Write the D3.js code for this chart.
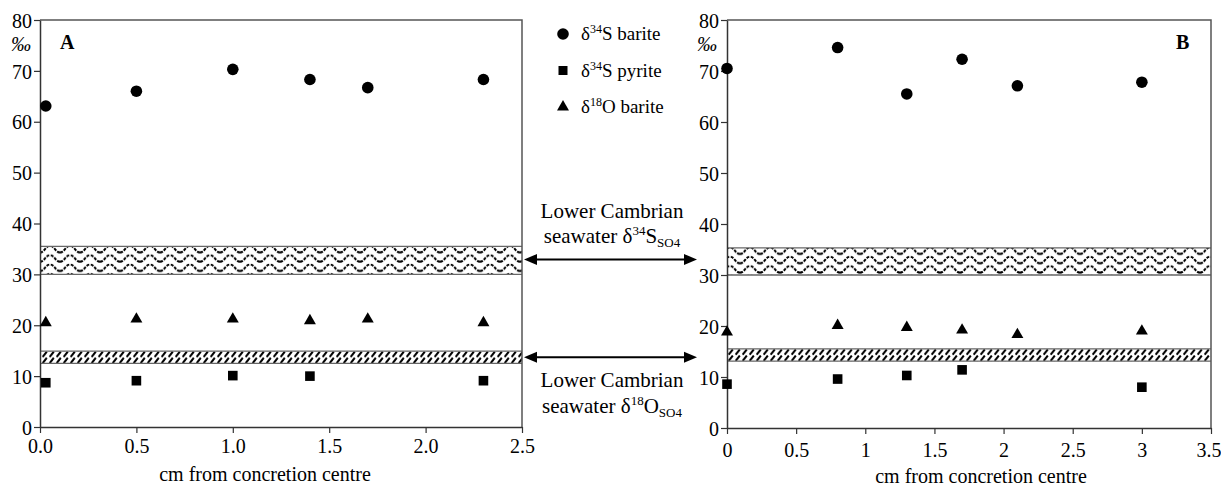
<!DOCTYPE html>
<html>
<head>
<meta charset="utf-8">
<script src="https://cdn.jsdelivr.net/npm/d3@7"></script>
<style>
  body { margin: 0; background: #fff; }
  svg text { font-family: "Liberation Serif", "Times New Roman", Times, "DejaVu Serif", serif !important; fill: #000; }
</style>
</head>
<body>
<div id="viz-container" style="width:1221px;height:487px"></div>
<script>
const serif = '"Liberation Serif", "Times New Roman", Times, "DejaVu Serif", serif';

// panel A
const barXA = [0.03, 0.5, 1.0, 1.4, 1.7, 2.3];
const barSA = [63.1, 66.0, 70.3, 68.3, 66.7, 68.3];
const pyrXA = [0.03, 0.5, 1.0, 1.4, 2.3];
const pyrSA = [8.7, 9.1, 10.1, 10.0, 9.1];
const barOA = [20.5, 21.2, 21.2, 20.9, 21.2, 20.5];
const ticksXA = [0, 0.5, 1, 1.5, 2, 2.5];

// panel B
const barXB = [0, 0.8, 1.3, 1.7, 2.1, 3.0];
const barSB = [70.5, 74.6, 65.5, 72.3, 67.1, 67.8];
const pyrXB = [0, 0.8, 1.3, 1.7, 3.0];
const pyrSB = [8.6, 9.6, 10.3, 11.4, 8.0];
const barOB = [18.8, 20.1, 19.7, 19.2, 18.3, 19.0];
const ticksXB = [0, 0.5, 1, 1.5, 2, 2.5, 3, 3.5];

const ticksY = [0, 10, 20, 30, 40, 50, 60, 70, 80];

// seawater bands [low, high]
const bandSA = [30, 35.5];
const bandOA = [12.5, 14.9];
const bandSB = [30, 35.3];
const bandOB = [13.1, 15.5];
const arrowLevels = [32.9, 13.7];

const svg = d3.select("#viz-container").append("svg")
  .attr("width", 1221).attr("height", 487)
  .attr("font-family", serif);
const defs = svg.append("defs");

const axisColor = "#333";
const frameColor = "#555";

function wavePattern(id, y0) {
  const p = defs.append("pattern").attr("id", id)
    .attr("patternUnits", "userSpaceOnUse")
    .attr("x", 0).attr("y", y0)
    .attr("width", 20).attr("height", 9.3);
  p.append("rect").attr("width", 20).attr("height", 9.3).attr("fill", "#fff");
  p.append("path")
    .attr("d", "M0,8 C5,8 5,1.6 10,1.6 C15,1.6 15,8 20,8")
    .attr("fill", "none").attr("stroke", "#000")
    .attr("stroke-width", 2).attr("stroke-dasharray", "3,1.3");
}
function hatchPattern(id, y0) {
  const p = defs.append("pattern").attr("id", id)
    .attr("patternUnits", "userSpaceOnUse")
    .attr("x", 0).attr("y", y0)
    .attr("width", 7).attr("height", 6.2);
  p.append("rect").attr("width", 7).attr("height", 6.2).attr("fill", "#fff");
  p.append("path").attr("d", "M0.6,5.8 L4.8,0.4")
    .attr("stroke", "#000").attr("stroke-width", 2);
}

function panel(opts) {
  const x = d3.scaleLinear().domain(opts.xDomain).range(opts.xRange);
  const y = d3.scaleLinear().domain([0, 80]).range(opts.yRange);
  const g = svg.append("g");

  // bands
  wavePattern(opts.id + "-wave", y(opts.bandS[1]) - 2);
  hatchPattern(opts.id + "-hatch", y(opts.bandO[1]));
  [[opts.bandS, "-wave"], [opts.bandO, "-hatch"]].forEach(([b, suf]) => {
    g.append("rect")
      .attr("x", x.range()[0]).attr("width", x.range()[1] - x.range()[0])
      .attr("y", y(b[1])).attr("height", y(b[0]) - y(b[1]))
      .attr("fill", "url(#" + opts.id + suf + ")");
    b.forEach(v => g.append("line")
      .attr("x1", x.range()[0]).attr("x2", x.range()[1])
      .attr("y1", y(v)).attr("y2", y(v))
      .attr("stroke", "#666").attr("stroke-width", 1.3));
  });

  // frame top and right
  g.append("path")
    .attr("d", `M${x.range()[0]},${y(80)}H${x.range()[1]}V${y(0)}`)
    .attr("fill", "none").attr("stroke", frameColor).attr("stroke-width", 1.5);

  // axes
  const ax = g.append("g").attr("transform", `translate(0,${y(0)})`)
    .call(d3.axisBottom(x).tickValues(opts.ticksX).tickFormat(opts.fmt)
      .tickSize(6).tickSizeOuter(0).tickPadding(opts.xPad));
  const ay = g.append("g").attr("transform", `translate(${x.range()[0]},0)`)
    .call(d3.axisLeft(y).tickValues(ticksY).tickSize(6).tickSizeOuter(0).tickPadding(2));
  [ax, ay].forEach(a => {
    a.attr("font-family", serif);
    a.select(".domain").attr("stroke", axisColor).attr("stroke-width", 1.5);
    a.selectAll(".tick line").attr("stroke", axisColor).attr("stroke-width", 1.2);
    a.selectAll(".tick text").attr("font-size", 20).attr("fill", "#000");
  });
  ay.selectAll(".tick text").attr("dy", "0.36em");
  // keep the last x label inside the window
  if (opts.clampLast) {
    ax.selectAll(".tick text").filter(d => d === opts.ticksX[opts.ticksX.length - 1])
      .attr("text-anchor", "end").attr("x", 10);
  }

  g.append("text").attr("x", opts.permilX).attr("y", 51)
    .attr("font-size", 20).attr("font-style", "italic").text("‰");
  g.append("text").attr("x", opts.letterX).attr("y", 49)
    .attr("font-size", 20).attr("font-weight", "bold").text(opts.letter);
  g.append("text").attr("x", opts.titleX).attr("y", opts.titleY)
    .attr("text-anchor", "middle").attr("font-size", 20)
    .text("cm from concretion centre");

  // markers
  g.selectAll(".tri").data(opts.barX).join("path")
    .attr("transform", (d, i) => `translate(${x(d)},${y(opts.barO[i])})`)
    .attr("d", d3.symbol(d3.symbolTriangle, 62)).attr("fill", "#000");
  g.selectAll(".sq").data(opts.pyrX).join("rect")
    .attr("x", d => x(d) - 4.8).attr("width", 9.6).attr("height", 9.6)
    .attr("y", (d, i) => y(opts.pyrS[i]) - 4.8).attr("fill", "#000");
  g.selectAll(".ci").data(opts.barX).join("circle")
    .attr("cx", d => x(d)).attr("cy", (d, i) => y(opts.barS[i]))
    .attr("r", 5.8).attr("fill", "#000");
  return y;
}

const yA = panel({
  id: "A", xDomain: [0, 2.5], xRange: [40, 522], yRange: [427, 20],
  ticksX: ticksXA, fmt: d3.format(".1f"), xPad: 6,
  bandS: bandSA, bandO: bandOA,
  barX: barXA, barS: barSA, barO: barOA, pyrX: pyrXA, pyrS: pyrSA,
  letter: "A", letterX: 60, permilX: 11, titleX: 265, titleY: 481
});
panel({
  id: "B", xDomain: [0, 3.5], xRange: [727, 1211], yRange: [428, 20],
  ticksX: ticksXB, fmt: d3.format("~g"), xPad: 9, clampLast: true,
  bandS: bandSB, bandO: bandOB,
  barX: barXB, barS: barSB, barO: barOB, pyrX: pyrXB, pyrS: pyrSB,
  letter: "B", letterX: 1176, permilX: 697, titleX: 981, titleY: 483
});

// legend
const legendItems = [
  { sym: "circle", iso: "34", el: "S", name: " barite" },
  { sym: "square", iso: "34", el: "S", name: " pyrite" },
  { sym: "triangle", iso: "18", el: "O", name: " barite" }
];
const leg = svg.append("g");
legendItems.forEach((it, i) => {
  const cy = 34 + i * 36.5;
  if (it.sym === "circle") leg.append("circle").attr("cx", 563).attr("cy", cy).attr("r", 5.8);
  if (it.sym === "square") leg.append("rect").attr("x", 558.5).attr("y", cy - 4.5).attr("width", 9).attr("height", 9);
  if (it.sym === "triangle") leg.append("path").attr("transform", `translate(563,${cy})`)
    .attr("d", d3.symbol(d3.symbolTriangle, 62));
  const t = leg.append("text").attr("x", 581).attr("y", cy + 6).attr("font-size", 19);
  t.append("tspan").text("δ");
  t.append("tspan").attr("font-size", 12).attr("dy", -7).text(it.iso);
  t.append("tspan").attr("dy", 7).text(it.el + it.name);
});

// seawater annotations
const notes = [
  { iso: "34", el: "S", y1: 218, y2: 243 },
  { iso: "18", el: "O", y1: 387, y2: 413 }
];
const ann = svg.append("g");
notes.forEach((n, i) => {
  ann.append("text").attr("x", 612).attr("y", n.y1).attr("text-anchor", "middle")
    .attr("font-size", 21).text("Lower Cambrian");
  const t = ann.append("text").attr("x", 612).attr("y", n.y2).attr("text-anchor", "middle")
    .attr("font-size", 21);
  t.append("tspan").text("seawater δ");
  t.append("tspan").attr("font-size", 13).attr("dy", -8).text(n.iso);
  t.append("tspan").attr("dy", 8).text(n.el);
  t.append("tspan").attr("font-size", 13).attr("dy", 4).text("SO4");

  const ay = yA(arrowLevels[i]);
  const x0 = 524, x1 = 697, hl = 13, hw = 5.5;
  ann.append("line").attr("x1", x0 + 4).attr("x2", x1 - 4).attr("y1", ay).attr("y2", ay)
    .attr("stroke", "#000").attr("stroke-width", 2);
  ann.append("path").attr("d", `M${x0},${ay}L${x0 + hl},${ay - hw}L${x0 + hl},${ay + hw}Z`);
  ann.append("path").attr("d", `M${x1},${ay}L${x1 - hl},${ay - hw}L${x1 - hl},${ay + hw}Z`);
});
</script>
</body>
</html>
